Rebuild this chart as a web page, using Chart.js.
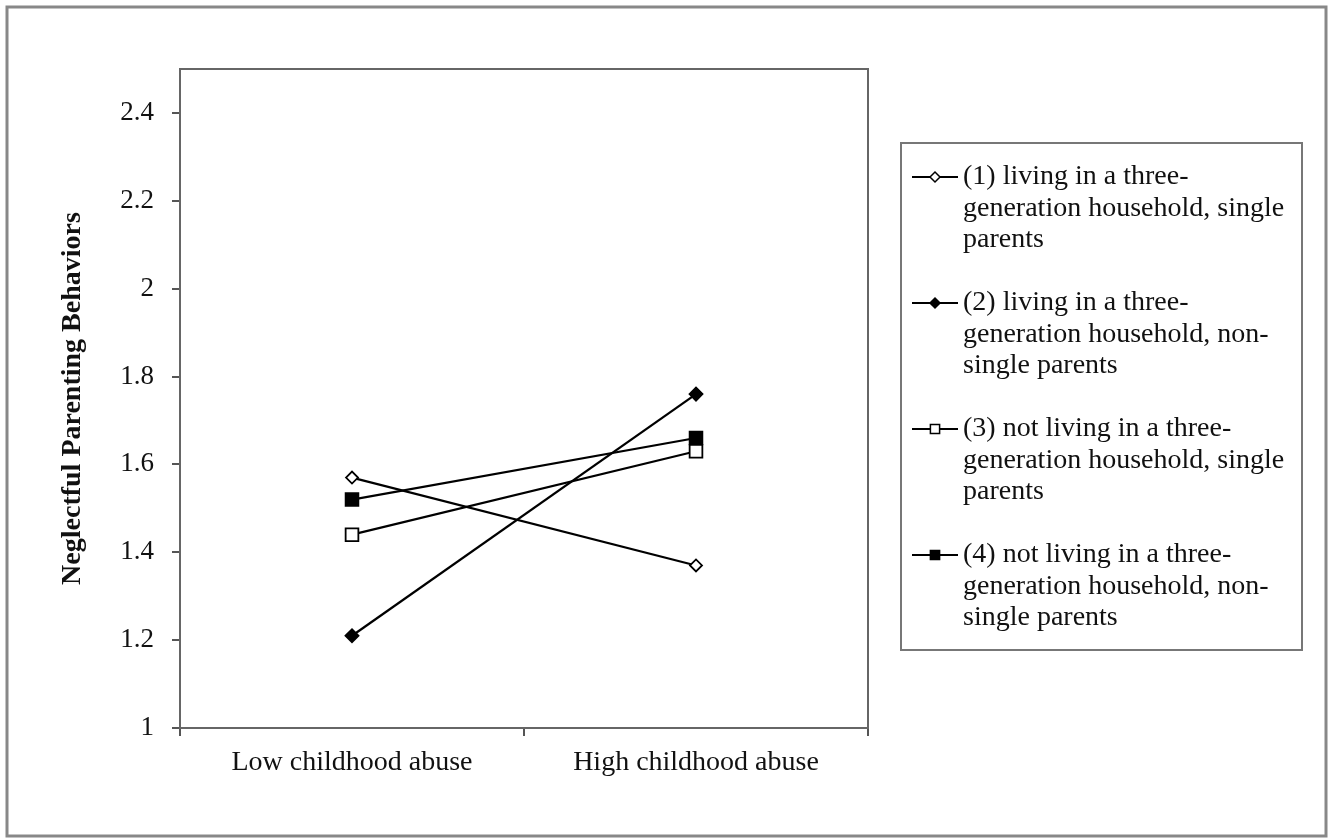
<!DOCTYPE html>
<html>
<head>
<meta charset="utf-8">
<script src="https://cdn.jsdelivr.net/npm/chart.js@4.4.0/dist/chart.umd.min.js"></script>
<style>
  html, body { margin: 0; padding: 0; background: #fff; }
  #wrap { position: relative; width: 1333px; height: 839px; }
</style>
</head>
<body>
<div id="wrap"><canvas id="chart"></canvas></div>
<script>
// data
const categories = ["Low childhood abuse", "High childhood abuse"];
const yTicks = [1, 1.2, 1.4, 1.6, 1.8, 2, 2.2, 2.4];
const seriesNames = [
  ["(1) living in a three-", "generation household, single", "parents"],
  ["(2) living in a three-", "generation household, non-", "single parents"],
  ["(3) not living in a three-", "generation household, single", "parents"],
  ["(4) not living in a three-", "generation household, non-", "single parents"]
];
const threeGenSingle = [1.57, 1.37];
const threeGenNonSingle = [1.21, 1.76];
const notThreeGenSingle = [1.44, 1.63];
const notThreeGenNonSingle = [1.52, 1.66];

const FONT = '"Liberation Serif", "Times New Roman", serif';

function series(name, values, style, filled, radius) {
  return {
    label: name,
    data: values,
    borderColor: "#000",
    borderWidth: 2.2,
    pointStyle: style,
    pointRadius: radius,
    pointBorderWidth: 1.8,
    pointBorderColor: "#000",
    pointBackgroundColor: filled ? "#000" : "#fff",
    backgroundColor: filled ? "#000" : "#fff",
    tension: 0
  };
}

// outer frame, plot box and the boxed legend
const framePlugin = {
  id: "frame",
  afterDraw(chart) {
    const ctx = chart.ctx;
    const a = chart.chartArea;
    ctx.save();
    ctx.strokeStyle = "#666";
    ctx.lineWidth = 2;
    ctx.strokeRect(a.left, a.top, a.right - a.left, a.bottom - a.top);

    ctx.strokeStyle = "#888";
    ctx.lineWidth = 3;
    ctx.strokeRect(7, 7, 1319, 829);

    // legend
    ctx.strokeStyle = "#777";
    ctx.lineWidth = 2;
    ctx.strokeRect(901, 143, 401, 507);
    ctx.font = "28px " + FONT;
    ctx.textBaseline = "middle";
    ctx.textAlign = "left";
    let y = 177;
    chart.data.datasets.forEach(ds => {
      ctx.strokeStyle = "#000";
      ctx.lineWidth = 2;
      ctx.beginPath();
      ctx.moveTo(912, y);
      ctx.lineTo(958, y);
      ctx.stroke();
      ctx.fillStyle = ds.pointBackgroundColor;
      ctx.strokeStyle = "#000";
      ctx.lineWidth = 1.5;
      Chart.helpers.drawPoint(ctx, {
        pointStyle: ds.pointStyle,
        radius: ds.pointStyle === "rect" ? 6.5 : 5,
        rotation: 0,
        borderWidth: 1.5
      }, 935, y);
      ctx.fillStyle = "#111";
      ds.label.forEach((line, i) => ctx.fillText(line, 963, y + i * 31.5));
      y += 126;
    });
    ctx.restore();
  }
};

new Chart(document.getElementById("chart"), {
  type: "line",
  data: {
    labels: categories,
    datasets: [
      series(seriesNames[0], threeGenSingle, "rectRot", false, 6),
      series(seriesNames[1], threeGenNonSingle, "rectRot", true, 6.5),
      series(seriesNames[2], notThreeGenSingle, "rect", false, 9),
      series(seriesNames[3], notThreeGenNonSingle, "rect", true, 9)
    ]
  },
  options: {
    responsive: true,
    maintainAspectRatio: false,
    animation: false,
    layout: { padding: { left: 40, top: 69, right: 465, bottom: 50 } },
    plugins: { legend: { display: false }, tooltip: { enabled: false } },
    scales: {
      x: {
        offset: true,
        afterFit: s => { s.height = 61; },
        grid: { offset: true, drawOnChartArea: false, tickLength: 8, color: "#555", lineWidth: 2 },
        border: { color: "#555", width: 2 },
        ticks: { color: "#111", padding: 10, font: { family: FONT, size: 28 } }
      },
      y: {
        min: 1,
        max: 2.5,
        afterFit: s => { s.width = 140; },
        afterBuildTicks: s => { s.ticks = yTicks.map(v => ({ value: v })); },
        grid: { drawOnChartArea: false, tickLength: 8, color: "#555", lineWidth: 2 },
        border: { color: "#555", width: 2 },
        ticks: { color: "#111", padding: 18, font: { family: FONT, size: 27 }, callback: v => String(v) },
        title: {
          display: true,
          text: "Neglectful Parenting Behaviors",
          color: "#111",
          padding: { top: 16, bottom: 0 },
          font: { family: FONT, size: 28, weight: "bold" }
        }
      }
    }
  },
  plugins: [framePlugin]
});
</script>
</body>
</html>
